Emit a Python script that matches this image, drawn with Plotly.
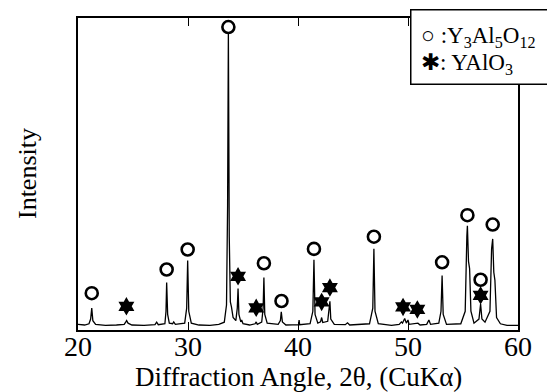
import plotly.graph_objects as go

# XRD pattern (2theta, relative intensity)
two_theta = [20.0, 20.6, 21.0, 21.15, 21.25, 21.35, 21.6, 22.5, 23.5, 24.2, 24.35, 24.42, 24.55, 24.9,
             26.0, 27.0, 27.15, 27.3, 27.9, 28.0, 28.06, 28.15, 28.3, 28.6, 28.7, 28.85, 29.7, 29.88,
             29.97, 30.07, 30.3, 31.0, 32.0, 32.8, 33.3, 33.5, 33.6, 33.67, 33.75, 33.85, 33.95, 34.1,
             34.35, 34.48, 34.55, 34.63, 34.8, 34.88, 35.0, 35.6, 36.1, 36.2, 36.3, 36.7, 36.83, 36.9,
             36.98, 37.2, 38.2, 38.4, 38.48, 38.58, 38.9, 39.8, 40.05, 40.1, 40.15, 41.1, 41.35, 41.45,
             41.55, 41.8, 42.05, 42.15, 42.25, 42.7, 42.83, 42.9, 42.98, 43.3, 44.3, 44.5, 44.7, 46.5,
             46.8, 46.9, 47.0, 47.3, 48.5, 49.2, 49.4, 49.5, 49.7, 49.85, 50.0, 50.1, 50.9, 51.1, 51.7,
             51.9, 52.05, 52.8, 53.0, 53.1, 53.2, 53.5, 54.8, 55.2, 55.35, 55.4, 55.5, 55.6, 55.72,
             56.0, 56.45, 56.6, 56.72, 57.0, 57.45, 57.6, 57.7, 57.8, 57.9, 58.05, 58.4, 59.0, 60.0]
intensity = [1.8, 1.6, 2.0, 3.5, 7.0, 3.0, 1.8, 1.5, 1.6, 1.8, 2.6, 3.0, 2.2, 1.6,
             1.5, 1.7, 2.5, 1.7, 2.0, 6.0, 15.2, 5.0, 2.2, 2.0, 2.6, 1.8, 2.2, 7.0,
             22.3, 6.0, 2.2, 1.6, 1.5, 1.8, 2.5, 8.0, 40.0, 95.5, 30.0, 9.0, 7.4, 4.0,
             3.0, 7.0, 13.3, 5.0, 2.6, 3.2, 2.0, 1.6, 2.0, 2.6, 1.8, 2.5, 7.0, 16.8,
             5.0, 2.2, 1.8, 3.0, 5.8, 2.6, 1.6, 1.5, 1.7, 3.2, 1.7, 2.0, 6.0, 22.5,
             5.0, 2.2, 2.6, 4.0, 2.4, 2.8, 6.0, 9.2, 3.5, 1.8, 1.7, 2.3, 1.6, 2.0,
             7.0, 26.0, 6.0, 2.0, 1.5, 1.8, 2.6, 2.2, 3.7, 2.2, 3.2, 1.8, 2.2, 1.6, 1.8,
             3.2, 1.8, 2.2, 6.0, 17.5, 5.0, 1.8, 2.0, 6.0, 30.0, 33.4, 22.0, 19.7, 6.0,
             2.2, 3.5, 8.3, 3.5, 2.5, 6.0, 26.0, 29.2, 18.5, 16.0, 4.0, 2.0, 1.5, 1.5]

# Y3Al5O12 peak markers (open circles)
yag_x = [21.25, 28.06, 29.97, 33.67, 36.9, 38.5, 41.45, 46.9, 53.1, 55.4, 56.6, 57.7]
yag_y = [11.8, 19.4, 25.8, 97.1, 21.4, 9.3, 26.0, 29.9, 21.7, 36.8, 16.1, 33.8]

# YAlO3 peak markers (stars)
yap_x = [24.4, 34.55, 36.2, 42.15, 42.9, 49.55, 50.85, 56.6]
yap_y = [7.6, 17.2, 7.1, 9.0, 13.6, 7.4, 6.6, 11.1]

x_ticks = [20, 30, 40, 50, 60]

SERIF = "Liberation Serif, Times New Roman, serif"

fig = go.Figure()
fig.add_trace(go.Scatter(x=two_theta, y=intensity, mode="lines",
                         line=dict(color="black", width=1.3), showlegend=False))
fig.add_trace(go.Scatter(x=yag_x, y=yag_y, mode="markers",
                         marker=dict(symbol="circle-open", size=12, color="black",
                                     line=dict(width=2.6, color="black")),
                         showlegend=False))
fig.add_trace(go.Scatter(x=yap_x, y=yap_y, mode="markers",
                         marker=dict(symbol="hexagram", size=14, color="black",
                                     line=dict(width=0)),
                         showlegend=False))

# page body has an 8px margin, so the figure is 8px smaller and margins shifted
fig.update_layout(
    width=547, height=384,
    margin=dict(l=70, r=37, t=8, b=62),
    paper_bgcolor="white", plot_bgcolor="white",
    font=dict(family=SERIF, color="black", size=24),
    xaxis=dict(range=[20, 60], tickvals=x_ticks, ticks="inside", ticklen=8,
               tickwidth=1.2, tickcolor="black", showline=True, linecolor="black",
               linewidth=1.5, mirror="ticks", showgrid=False, zeroline=False,
               ticklabelstandoff=-9,
               tickfont=dict(family=SERIF, size=28, color="black")),
    yaxis=dict(range=[0, 100], showticklabels=False, ticks="", showline=True,
               linecolor="black", linewidth=1.5, mirror=True, showgrid=False,
               zeroline=False),
    annotations=[
        dict(text="Intensity", xref="paper", yref="paper", x=-0.116, y=0.503,
             textangle=-90, showarrow=False, xanchor="center", yanchor="middle",
             font=dict(family=SERIF, size=26, color="black")),
        dict(text="Diffraction Angle, 2θ, (CuKα)", xref="paper", yref="paper",
             x=0.502, y=-0.152, showarrow=False, xanchor="center", yanchor="middle",
             font=dict(family=SERIF, size=27, color="black")),
        # legend box
        dict(text=" ", xref="paper", yref="paper", x=0.7545, y=1.0296,
             xanchor="left", yanchor="top", showarrow=False, bgcolor="white",
             bordercolor="black", borderwidth=1.5, borderpad=0, width=140, height=73,
             font=dict(family=SERIF, size=10, color="black")),
        dict(text="○ :Y<sub>3</sub>Al<sub>5</sub>O<sub>12</sub>", xref="paper", yref="paper",
             x=0.775, y=0.9395, xanchor="left", yanchor="middle", showarrow=False,
             font=dict(family=SERIF, size=23, color="black")),
        dict(text="✱: YAlO<sub>3</sub>", xref="paper", yref="paper",
             x=0.775, y=0.8535, xanchor="left", yanchor="middle", showarrow=False,
             font=dict(family=SERIF, size=23, color="black")),
    ],
)

fig.write_html("out.html")
